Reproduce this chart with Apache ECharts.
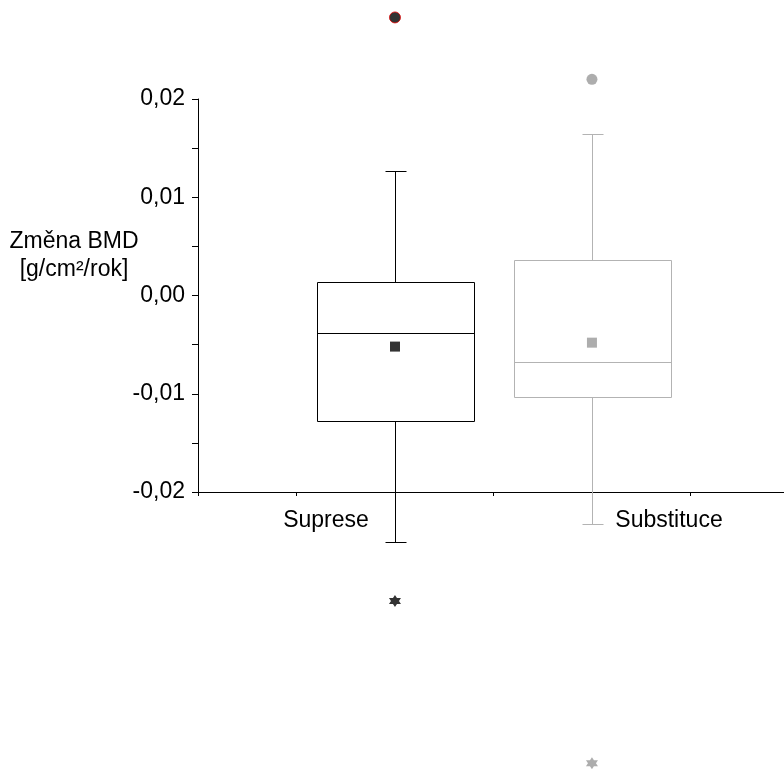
<!DOCTYPE html>
<html>
<head>
<meta charset="utf-8">
<script src="https://cdn.jsdelivr.net/npm/echarts@6/dist/echarts.min.js"></script>
<style>
html, body { margin: 0; padding: 0; background: #fff; }
#chart { width: 784px; height: 769px; }
</style>
</head>
<body>
<div id="chart"></div>
<script>
// Yearly change of bone mineral density, two treatment groups
const categories = ['Suprese', 'Substituce'];
const groupPositions = [2, 4];
const whiskerLow = [-0.0251, -0.0233];
const quartile1 = [-0.0128, -0.0103];
const medians = [-0.0038, -0.0068];
const quartile3 = [0.0014, 0.0036];
const whiskerHigh = [0.0127, 0.0164];
const means = [-0.0052, -0.0048];

// Extreme values: group index, value, marker kind
const outlierGroup = [0, 0, 1, 1];
const outlierValues = [0.0283, -0.0311, 0.0220, -0.0476];
const outlierKinds = ['circle', 'star', 'circle', 'star'];

const yTickValues = [-0.02, -0.01, 0, 0.01, 0.02];
const yTickLabels = ['-0,02', '-0,01', '0,00', '0,01', '0,02'];

// Styling
const boxColors = ['#000000', '#b3b3b3'];
const meanColors = ['#000000', '#999999'];
const outlierColors = ['#000000', '#000000', '#999999', '#999999'];
const outlierBorders = ['#e00000', null, null, null];
const FONT = '"Liberation Sans", Arial, sans-serif';
const FONT_SIZE = 23;
// six-pointed star: two triangles wound the same way so the middle stays filled
const STAR = 'path://M0,-10L8.66,5L-8.66,5ZM0,10L-8.66,-5L8.66,-5Z';

const boxData = categories.map((c, i) => [
  groupPositions[i], whiskerLow[i], quartile1[i], medians[i], quartile3[i], whiskerHigh[i]
]);
const meanData = categories.map((c, i) => ({
  value: [groupPositions[i], means[i]],
  itemStyle: { color: meanColors[i] }
}));
const outlierData = outlierValues.map((v, k) => ({
  value: [groupPositions[outlierGroup[k]], v],
  symbol: outlierKinds[k] === 'star' ? STAR : 'circle',
  symbolSize: outlierKinds[k] === 'star' ? 12 : 11,
  itemStyle: {
    color: outlierColors[k],
    borderColor: outlierBorders[k] || outlierColors[k],
    borderWidth: outlierBorders[k] ? 1 : 0
  }
}));

const crisp = v => Math.round(v) + 0.5;

function renderBox(params, api) {
  const i = params.dataIndex;
  const x = api.value(0);
  const unit = api.size([1, 0])[0];
  const half = unit * 0.8;
  const capHalf = unit * 0.105;
  const cx = crisp(api.coord([x, 0])[0]);
  const yOf = d => crisp(api.coord([x, api.value(d)])[1]);
  const yLow = yOf(1), yQ1 = yOf(2), yMed = yOf(3), yQ3 = yOf(4), yHigh = yOf(5);
  const style = { stroke: boxColors[i], lineWidth: 1, fill: null };
  const line = (x1, y1, x2, y2) => ({
    type: 'line', shape: { x1, y1, x2, y2 }, style
  });
  const l = crisp(cx - half), r = crisp(cx + half);
  return {
    type: 'group',
    children: [
      line(cx, yHigh, cx, yQ3),
      line(cx, yQ1, cx, yLow),
      line(crisp(cx - capHalf), yHigh, crisp(cx + capHalf), yHigh),
      line(crisp(cx - capHalf), yLow, crisp(cx + capHalf), yLow),
      { type: 'rect', shape: { x: l, y: yQ3, width: r - l, height: yQ1 - yQ3 },
        style: { stroke: boxColors[i], lineWidth: 1, fill: 'rgba(0,0,0,0)' } },
      line(l, yMed, r, yMed)
    ]
  };
}

const chart = echarts.init(document.getElementById('chart'), null, { renderer: 'canvas' });
chart.setOption({
  animation: false,
  backgroundColor: '#ffffff',
  textStyle: { fontFamily: FONT },
  grid: { left: 198, top: 99, bottom: 277, right: 0, containLabel: false },
  xAxis: {
    type: 'value', min: 0, max: 5.95, interval: 1,
    axisLine: { onZero: false, lineStyle: { color: '#000', width: 1 } },
    axisTick: { show: true, length: 4, lineStyle: { color: '#000' } },
    axisLabel: { show: false },
    splitLine: { show: false }
  },
  yAxis: {
    type: 'value', min: -0.02, max: 0.02, interval: 0.01,
    axisLine: { show: true, onZero: false, lineStyle: { color: '#000', width: 1 } },
    axisTick: { show: true, length: 6, lineStyle: { color: '#000' } },
    minorTick: { show: true, splitNumber: 2, length: 6, lineStyle: { color: '#000' } },
    splitLine: { show: false },
    minorSplitLine: { show: false },
    axisLabel: {
      margin: 13, color: '#000', fontSize: FONT_SIZE, fontFamily: FONT,
      formatter: v => {
        const k = yTickValues.findIndex(t => Math.abs(t - v) < 1e-9);
        return k >= 0 ? yTickLabels[k] : '';
      }
    }
  },
  graphic: [
    { type: 'text', x: 74, y: 256,
      style: { text: 'Změna BMD\n[g/cm²/rok]', font: FONT_SIZE + 'px ' + FONT, fill: '#000',
               align: 'center', verticalAlign: 'middle', lineHeight: 28 } },
    { type: 'text', x: 326, y: 521,
      style: { text: categories[0], font: FONT_SIZE + 'px ' + FONT, fill: '#000',
               align: 'center', verticalAlign: 'middle' } },
    { type: 'text', x: 669, y: 521,
      style: { text: categories[1], font: FONT_SIZE + 'px ' + FONT, fill: '#000',
               align: 'center', verticalAlign: 'middle' } }
  ],
  series: [
    {
      type: 'custom', name: 'box', clip: false,
      renderItem: renderBox,
      encode: { x: 0, y: [1, 2, 3, 4, 5] },
      data: boxData, z: 2
    },
    {
      type: 'scatter', name: 'mean', clip: false,
      symbol: 'rect', symbolSize: 10,
      data: meanData, z: 3
    },
    {
      type: 'scatter', name: 'outliers', clip: false,
      data: outlierData, z: 3
    }
  ]
});
</script>
</body>
</html>
